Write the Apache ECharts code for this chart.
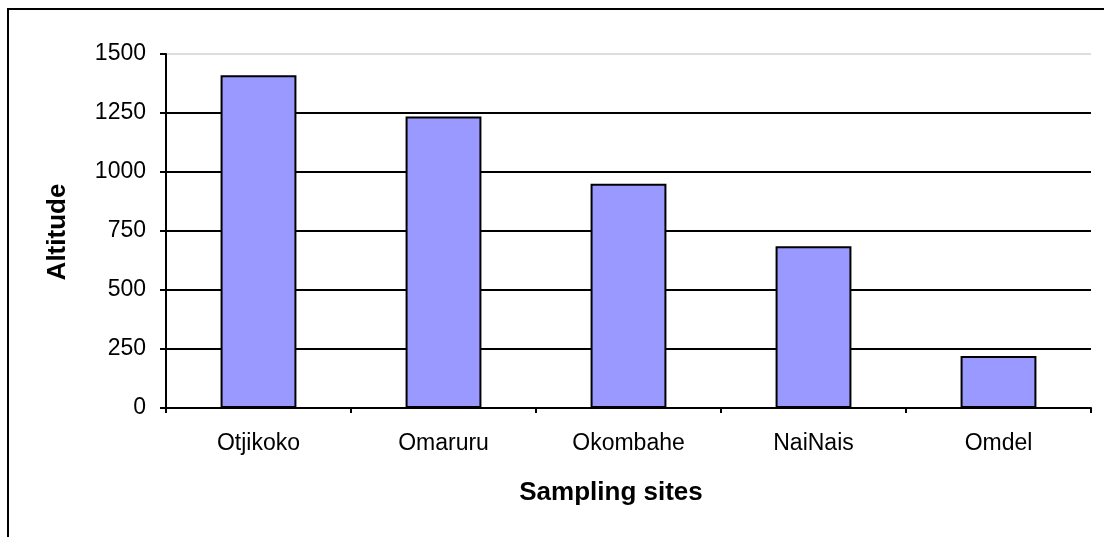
<!DOCTYPE html>
<html>
<head>
<meta charset="utf-8">
<script src="https://cdn.jsdelivr.net/npm/echarts@6/dist/echarts.min.js"></script>
<style>
    html, body { margin: 0; padding: 0; background: #fff; }
    #chart { width: 1104px; height: 537px; }
</style>
</head>
<body>
<div id="chart"></div>
<script>
// data
var sites = ['Otjikoko', 'Omaruru', 'Okombahe', 'NaiNais', 'Omdel']
var altitude = [1410, 1235, 950, 685, 220]
var yTicks = [0, 250, 500, 750, 1000, 1250, 1500]

var chart = echarts.init(document.getElementById('chart'))

var font = 'Arial, "Liberation Sans", sans-serif'

chart.setOption({
    animation: false,
    backgroundColor: '#fff',
    grid: {
        left: 166,
        right: 13,
        top: 54,
        bottom: 129
    },
    xAxis: {
        type: 'category',
        data: sites,
        axisLine: { lineStyle: { color: '#000', width: 2 } },
        axisTick: { show: true, length: 5, alignWithLabel: false, lineStyle: { color: '#000', width: 2 } },
        axisLabel: { color: '#000', fontFamily: font, fontSize: 23, margin: 24 }
    },
    yAxis: {
        type: 'value',
        min: yTicks[0],
        max: yTicks[yTicks.length - 1],
        interval: 250,
        axisLine: { show: true, lineStyle: { color: '#000', width: 2 } },
        axisTick: { show: true, length: 6, lineStyle: { color: '#000', width: 2 } },
        axisLabel: {
            color: '#000',
            fontFamily: font,
            fontSize: 23,
            margin: 20,
            formatter: (v) => String(v)
        },
        splitLine: {
            show: true,
            lineStyle: {
                color: ['#000', '#000', '#000', '#000', '#000', '#000', '#ddd'],
                width: 2
            }
        }
    },
    series: [
        {
            type: 'bar',
            data: altitude,
            barCategoryGap: '59%',
            itemStyle: {
                color: '#9999ff',
                borderColor: '#000',
                borderWidth: 2
            }
        }
    ],
    graphic: [
        {
            type: 'rect',
            shape: { x: 8, y: 9, width: 1110, height: 540 },
            style: { fill: 'none', stroke: '#000', lineWidth: 2 },
            silent: true
        },
        {
            type: 'text',
            x: 611,
            y: 493,
            style: {
                text: 'Sampling sites',
                font: 'bold 26px ' + font,
                fill: '#000',
                align: 'center',
                verticalAlign: 'middle'
            }
        },
        {
            type: 'text',
            x: 58,
            y: 232,
            rotation: Math.PI / 2,
            style: {
                text: 'Altitude',
                font: 'bold 26px ' + font,
                fill: '#000',
                align: 'center',
                verticalAlign: 'middle'
            }
        }
    ]
})
</script>
</body>
</html>
